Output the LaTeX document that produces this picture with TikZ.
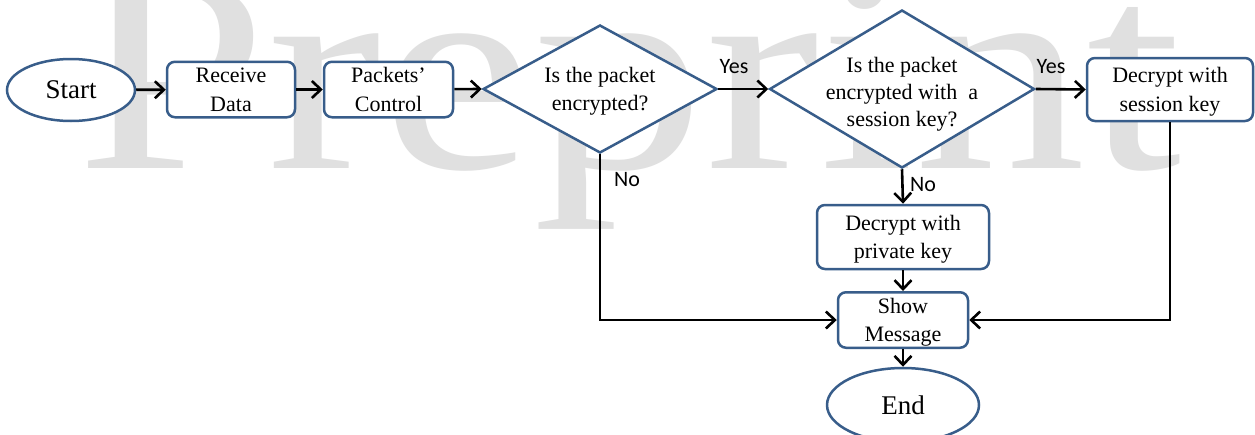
\documentclass[tikz,border=0pt]{standalone}
\usepackage{fontspec}
\setmainfont{Liberation Serif}
\newfontfamily\labfont{Carlito}
\usetikzlibrary{shapes.geometric,arrows.meta}
\definecolor{bordblue}{RGB}{56,93,138}
\definecolor{wmgray}{RGB}{224,224,224}
\begin{document}
\begin{tikzpicture}[x=1pt,y=-1pt,
  box/.style={draw=bordblue,line width=2.5pt,rounded corners=8pt,fill=white,inner sep=0pt,align=center,
    font=\fontsize{22pt}{28.5pt}\selectfont,text height=49.5pt,text depth=6pt},
  term/.style={draw=bordblue,line width=2.5pt,ellipse,fill=white,inner sep=0pt,font=\fontsize{27pt}{32pt}\selectfont},
  dia/.style={draw=bordblue,line width=2.5pt,diamond,fill=white,inner sep=0pt},
  diatext/.style={align=center,inner sep=0pt,text depth=6pt},
  conn/.style={line width=2.6pt,-{Straight Barb[length=9pt,width=17pt]}},
  lab/.style={font=\labfont\fontsize{22pt}{26pt}\selectfont,inner sep=0pt}
]
\useasboundingbox (0,0) rectangle (1255,434);
\clip (0,0) rectangle (1255,434);
\fill[white] (0,0) rectangle (1255,434);
% watermark
\node[anchor=base west,inner sep=0pt,text=wmgray,font=\fontsize{286pt}{286pt}\selectfont] (wm) at (76,168) {\scalebox{1.2}[1]{Preprint}};
% nodes
\node[term,minimum width=128pt,minimum height=62pt] (start) at (71,90) {Start};
\node[box,minimum width=128pt,minimum height=53pt] (recv) at (231,89.5) {Receive\\Data};
\node[box,minimum width=129pt,minimum height=53pt] (pack) at (388.5,89.5) {Packets’\\Control};
\node[dia,minimum width=234pt,minimum height=128pt] (d1) at (600,89) {};
\node[diatext,font=\fontsize{22pt}{28pt}\selectfont,text height=49pt] (d1t) at (600,88.5) {Is the packet\\encrypted?};
\node[dia,minimum width=265pt,minimum height=158pt] (d2) at (902,89) {};
\node[diatext,font=\fontsize{22pt}{27pt}\selectfont,text height=75pt] (d2t) at (902,92.2) {Is the packet\\encrypted with\ \ a\\session key?};
\node[box,minimum width=166pt,minimum height=63pt] (sess) at (1170,89.5) {Decrypt with\\session key};
\node[box,minimum width=172pt,minimum height=64pt] (priv) at (903,237) {Decrypt with\\private key};
\node[box,minimum width=130pt,minimum height=54pt] (show) at (903,320) {Show\\Message};
\node[term,minimum width=152pt,minimum height=74pt] (end) at (903,405) {End};
% labels
\node[lab] (y1) at (734,67) {Yes};
\node[lab] (y2) at (1051,67) {Yes};
\node[lab] (n1) at (627,180) {No};
\node[lab] (n2) at (923,185) {No};
% connectors
\draw[conn] (start) -- (recv);
\draw[conn] (recv) -- (pack);
\draw[conn] (pack) -- (d1.west);
\draw[conn] (d1.east) -- (d2.west);
\draw[conn] (d2.east) -- (sess.west);
\draw[conn] (d2.south) -- (priv.north);
\draw[conn] (priv) -- (show);
\draw[conn] (show) -- (end);
\draw[conn] (d1.south) |- (show.west);
\draw[conn] (sess.south) |- (show.east);
\end{tikzpicture}
\end{document}
